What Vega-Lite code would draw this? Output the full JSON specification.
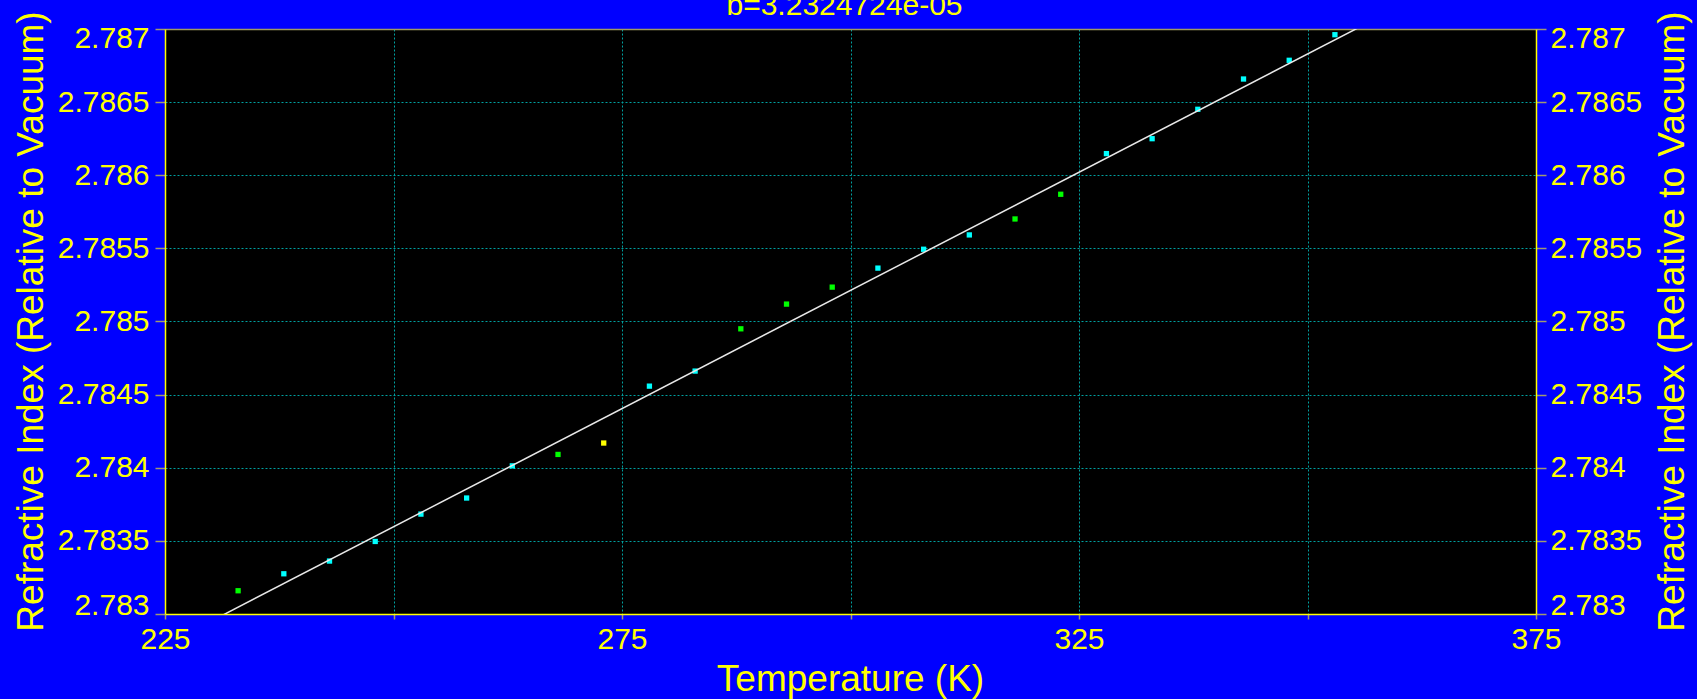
{
  "$schema": "https://vega.github.io/schema/vega-lite/v6.json",
  "width": 1371,
  "height": 585,
  "autosize": {"type": "none"},
  "padding": {"left": 165, "top": 29, "right": 161, "bottom": 85},
  "background": "#0000FF",
  "config": {
    "font": "Liberation Sans",
    "view": {"fill": "#000000", "stroke": null},
    "axis": {
      "labelFont": "Liberation Sans",
      "titleFont": "Liberation Sans",
      "labelColor": "#FFFF00",
      "titleColor": "#FFFF00",
      "labelFontSize": 30,
      "titleFontSize": 37,
      "titleFontWeight": "normal",
      "domainColor": "#FFFF00",
      "domainWidth": 1.5,
      "tickColor": "#A09A70",
      "tickWidth": 1.5,
      "gridColor": "#00A0A0",
      "gridDash": [2, 2],
      "gridWidth": 1,
      "gridOpacity": 1
    }
  },
  "title": {
    "text": "b=3.2324724e-05",
    "color": "#FFFF00",
    "fontSize": 30,
    "fontWeight": "normal",
    "font": "Liberation Sans",
    "anchor": "middle",
    "offset": -10,
    "dx": -6
  },
  "resolve": {"axis": {"x": "independent", "y": "independent"}},
  "layer": [
    {
      "data": {
        "values": [
          {"T": 233, "n": 2.783159, "set": "B"},
          {"T": 238, "n": 2.783275, "set": "A"},
          {"T": 243, "n": 2.783362, "set": "A"},
          {"T": 248, "n": 2.783496, "set": "A"},
          {"T": 253, "n": 2.783683, "set": "A"},
          {"T": 258, "n": 2.783793, "set": "A"},
          {"T": 263, "n": 2.784013, "set": "A"},
          {"T": 268, "n": 2.784091, "set": "B"},
          {"T": 273, "n": 2.784169, "set": "C"},
          {"T": 278, "n": 2.784558, "set": "A"},
          {"T": 283, "n": 2.784661, "set": "A"},
          {"T": 288, "n": 2.78495, "set": "B"},
          {"T": 293, "n": 2.785119, "set": "B"},
          {"T": 298, "n": 2.785235, "set": "B"},
          {"T": 303, "n": 2.785365, "set": "A"},
          {"T": 308, "n": 2.785494, "set": "A"},
          {"T": 313, "n": 2.785592, "set": "A"},
          {"T": 318, "n": 2.785701, "set": "B"},
          {"T": 323, "n": 2.78587, "set": "B"},
          {"T": 328, "n": 2.786148, "set": "A"},
          {"T": 333, "n": 2.78625, "set": "A"},
          {"T": 338, "n": 2.786451, "set": "A"},
          {"T": 343, "n": 2.786658, "set": "A"},
          {"T": 348, "n": 2.786786, "set": "A"},
          {"T": 353, "n": 2.786961, "set": "A"}
        ]
      },
      "mark": {"type": "point", "shape": "square", "filled": true, "size": 28, "opacity": 1},
      "encoding": {
        "x": {
          "field": "T", "type": "quantitative",
          "scale": {"domain": [225, 375], "nice": false, "zero": false},
          "axis": {
            "orient": "bottom",
            "title": "Temperature (K)",
            "values": [225, 250, 275, 300, 325, 350, 375],
            "labelExpr": "datum.value % 50 == 25 ? datum.label : ''",
            "tickSize": 5,
            "labelPadding": 5,
            "labelBaseline": "top",
            "labelFlush": false,
            "titleBaseline": "alphabetic",
            "titleAnchor": "middle",
            "titleX": 685,
            "titleY": 76,
            "grid": true
          }
        },
        "y": {
          "field": "n", "type": "quantitative",
          "scale": {"domain": [2.783, 2.787], "nice": false, "zero": false},
          "axis": {
            "orient": "left",
            "title": "Refractive Index (Relative to Vacuum)",
            "values": [2.783, 2.7835, 2.784, 2.7845, 2.785, 2.7855, 2.786, 2.7865, 2.787],
            "format": ".4~f",
            "tickSize": 10,
            "labelPadding": 6,
            "labelFlush": true,
            "labelFlushOffset": 6,
            "titleAngle": -90,
            "titleBaseline": "alphabetic",
            "titleAlign": "center",
            "titleX": -123,
            "titleY": 292,
            "grid": true
          }
        },
        "color": {
          "field": "set", "type": "nominal",
          "scale": {"domain": ["A", "B", "C"], "range": ["#00FFFF", "#00FF00", "#FFFF00"]},
          "legend": null
        }
      }
    },
    {
      "data": {
        "values": [
          {"T": 225, "n": 2.782788},
          {"T": 375, "n": 2.787637}
        ]
      },
      "mark": {"type": "line", "color": "#E8E8E8", "strokeWidth": 1.5, "clip": true},
      "encoding": {
        "x": {
          "field": "T", "type": "quantitative",
          "axis": {
            "orient": "top",
            "title": null,
            "labels": false,
            "ticks": false,
            "grid": false,
            "domainColor": "#A09A60"
          }
        },
        "y": {
          "field": "n", "type": "quantitative",
          "axis": {
            "orient": "right",
            "title": "Refractive Index (Relative to Vacuum)",
            "values": [2.783, 2.7835, 2.784, 2.7845, 2.785, 2.7855, 2.786, 2.7865, 2.787],
            "format": ".4~f",
            "tickSize": 10,
            "labelPadding": 4,
            "labelFlush": true,
            "labelFlushOffset": 6,
            "titleAngle": -90,
            "titleBaseline": "alphabetic",
            "titleAlign": "center",
            "titleX": 147,
            "titleY": 292,
            "grid": false
          }
        }
      }
    }
  ]
}
